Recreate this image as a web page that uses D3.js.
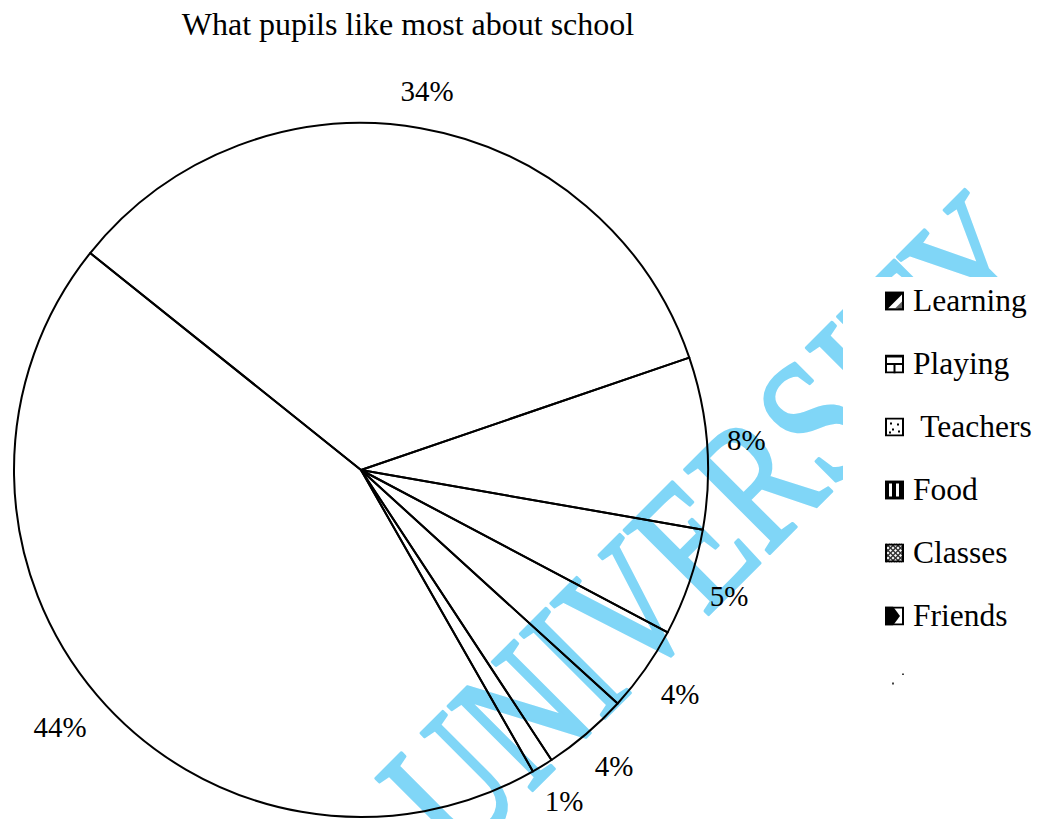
<!DOCTYPE html>
<html>
<head>
<meta charset="utf-8">
<script src="https://cdn.jsdelivr.net/npm/d3@7"></script>
<style>
  html, body { margin: 0; padding: 0; background: #fff; }
  svg { display: block; font-family: "Liberation Serif", "Times New Roman", serif; }
  text { white-space: pre; }
</style>
</head>
<body>
<svg id="chart" width="1037" height="819"></svg>
<script>
// Survey answers, in legend order (last category has no name)
const title = "What pupils like most about school";
const categories = ["Learning", "Playing", " Teachers", "Food", "Classes", "Friends", ""];
const values = [44, 34, 8, 5, 4, 4, 1];
const watermarkText = "UNIVERSITY";

const svg = d3.select("#chart");
const W = 1037, H = 819;
const cx = 361, cy = 470, radius = 347;
const startDeg = 150.3;
const toRad = d => d * Math.PI / 180;

// background watermark, stretched across its baseline
svg.append("text")
  .attr("transform", "translate(755,568) rotate(-45) scale(1,1.3)")
  .attr("text-anchor", "middle")
  .attr("font-size", 140)
  .attr("fill", "#80d6f7")
  .attr("stroke", "#80d6f7")
  .attr("stroke-width", 2.5)
  .attr("stroke-linejoin", "round")
  .text(watermarkText);

// title
svg.append("text")
  .attr("x", 408).attr("y", 35)
  .attr("text-anchor", "middle")
  .attr("font-size", 32)
  .attr("fill", "#000")
  .text(title);

// pie
const pie = d3.pie().sort(null).value(d => d)
  .startAngle(toRad(startDeg)).endAngle(toRad(startDeg + 360));
const arcs = pie(values);
const arc = d3.arc().innerRadius(0).outerRadius(radius);

const g = svg.append("g").attr("transform", `translate(${cx},${cy})`);
g.selectAll("path.slice")
  .data(arcs)
  .join("path")
  .attr("class", "slice")
  .attr("d", arc)
  .attr("fill", "none")
  .attr("stroke", "#000")
  .attr("stroke-width", 2)
  .attr("stroke-linejoin", "round");

// percentage labels: box kept a small gap outside the rim, inside the canvas
const labelGap = 19, labelH = 29;
g.selectAll("text.pct")
  .data(arcs)
  .join("text")
  .attr("class", "pct")
  .attr("font-size", 29)
  .attr("fill", "#000")
  .attr("text-anchor", "middle")
  .attr("dominant-baseline", "central")
  .text(d => d.value + "%")
  .each(function (d) {
    const a = (d.startAngle + d.endAngle) / 2;
    const w = this.getComputedTextLength();
    const off = (w / 2) * Math.abs(Math.sin(a)) + (labelH / 2) * Math.abs(Math.cos(a));
    const r = radius + labelGap + off;
    const x = r * Math.sin(a);
    const y = Math.min(-r * Math.cos(a), H - cy - 17);
    d3.select(this).attr("x", x).attr("y", y);
  });

// legend
const legend = svg.append("g");
legend.append("rect")
  .attr("x", 843).attr("y", 277).attr("width", W - 843).attr("height", 430)
  .attr("fill", "#fff");

const rowY = d3.scaleLinear().domain([0, 1]).range([300, 363]);
const sw = 19, sx = 885;

function drawSwatch(sg, i) {
  const k = "#000";
  if (i === 6) {
    sg.append("rect").attr("x", 7).attr("y", 13).attr("width", 2).attr("height", 2).attr("fill", "#444");
    sg.append("rect").attr("x", 17).attr("y", 4).attr("width", 2).attr("height", 1.5).attr("fill", "#444");
    return;
  }
  sg.append("rect").attr("width", sw).attr("height", sw).attr("fill", "#fff");
  if (i === 0) {
    sg.append("rect").attr("width", sw).attr("height", sw).attr("fill", k);
    sg.append("path").attr("d", `M3,${sw - 2} L${sw - 2},3 L${sw - 2},${sw - 6} L${sw - 6},${sw - 2} Z`).attr("fill", "#fff");
    sg.append("path").attr("d", `M${sw - 2},${sw - 9} L${sw - 9},${sw - 2} L${sw - 2},${sw - 2} Z`).attr("fill", "#666");
  } else if (i === 1) {
    sg.append("line").attr("x1", 0).attr("x2", sw).attr("y1", sw / 2).attr("y2", sw / 2).attr("stroke", k).attr("stroke-width", 2);
    sg.append("line").attr("x1", sw / 2).attr("x2", sw / 2).attr("y1", sw / 2).attr("y2", sw).attr("stroke", k).attr("stroke-width", 2);
    sg.append("line").attr("x1", 0).attr("x2", sw).attr("y1", 2).attr("y2", 2).attr("stroke", k).attr("stroke-width", 2);
  } else if (i === 2) {
    [[5, 5], [12, 6], [7, 11], [13, 13], [4, 14]].forEach(p =>
      sg.append("rect").attr("x", p[0]).attr("y", p[1]).attr("width", 2).attr("height", 2).attr("fill", k));
  } else if (i === 3) {
    sg.append("rect").attr("width", sw).attr("height", sw).attr("fill", k);
    sg.append("rect").attr("x", 4).attr("y", 3).attr("width", 3).attr("height", sw - 6).attr("fill", "#fff");
    sg.append("rect").attr("x", 11).attr("y", 3).attr("width", 3).attr("height", sw - 6).attr("fill", "#fff");
  } else if (i === 4) {
    for (let a = -sw; a < sw * 2; a += 5) {
      sg.append("line").attr("x1", a).attr("y1", 0).attr("x2", a + sw).attr("y2", sw).attr("stroke", "#333").attr("stroke-width", 1.5);
      sg.append("line").attr("x1", a).attr("y1", sw).attr("x2", a + sw).attr("y2", 0).attr("stroke", "#333").attr("stroke-width", 1.5);
    }
  } else if (i === 5) {
    sg.append("path").attr("d", `M0,0 L8,0 L15,${sw / 2} L8,${sw} L0,${sw} Z`).attr("fill", k);
  }
  sg.append("rect").attr("x", 1).attr("y", 1).attr("width", sw - 2).attr("height", sw - 2)
    .attr("fill", "none").attr("stroke", k).attr("stroke-width", 2);
}

categories.forEach((c, i) => {
  const y = rowY(i);
  const sg = legend.append("g").attr("transform", `translate(${sx},${y - sw / 2 + 1})`);
  sg.append("clipPath").attr("id", "sw" + i)
    .append("rect").attr("width", sw).attr("height", sw);
  const inner = sg.append("g").attr("clip-path", `url(#sw${i})`);
  drawSwatch(inner, i);
  legend.append("text")
    .attr("x", 913).attr("y", y + 11)
    .attr("font-size", 31.5)
    .attr("fill", "#000")
    .text(c);
});
</script>
</body>
</html>
